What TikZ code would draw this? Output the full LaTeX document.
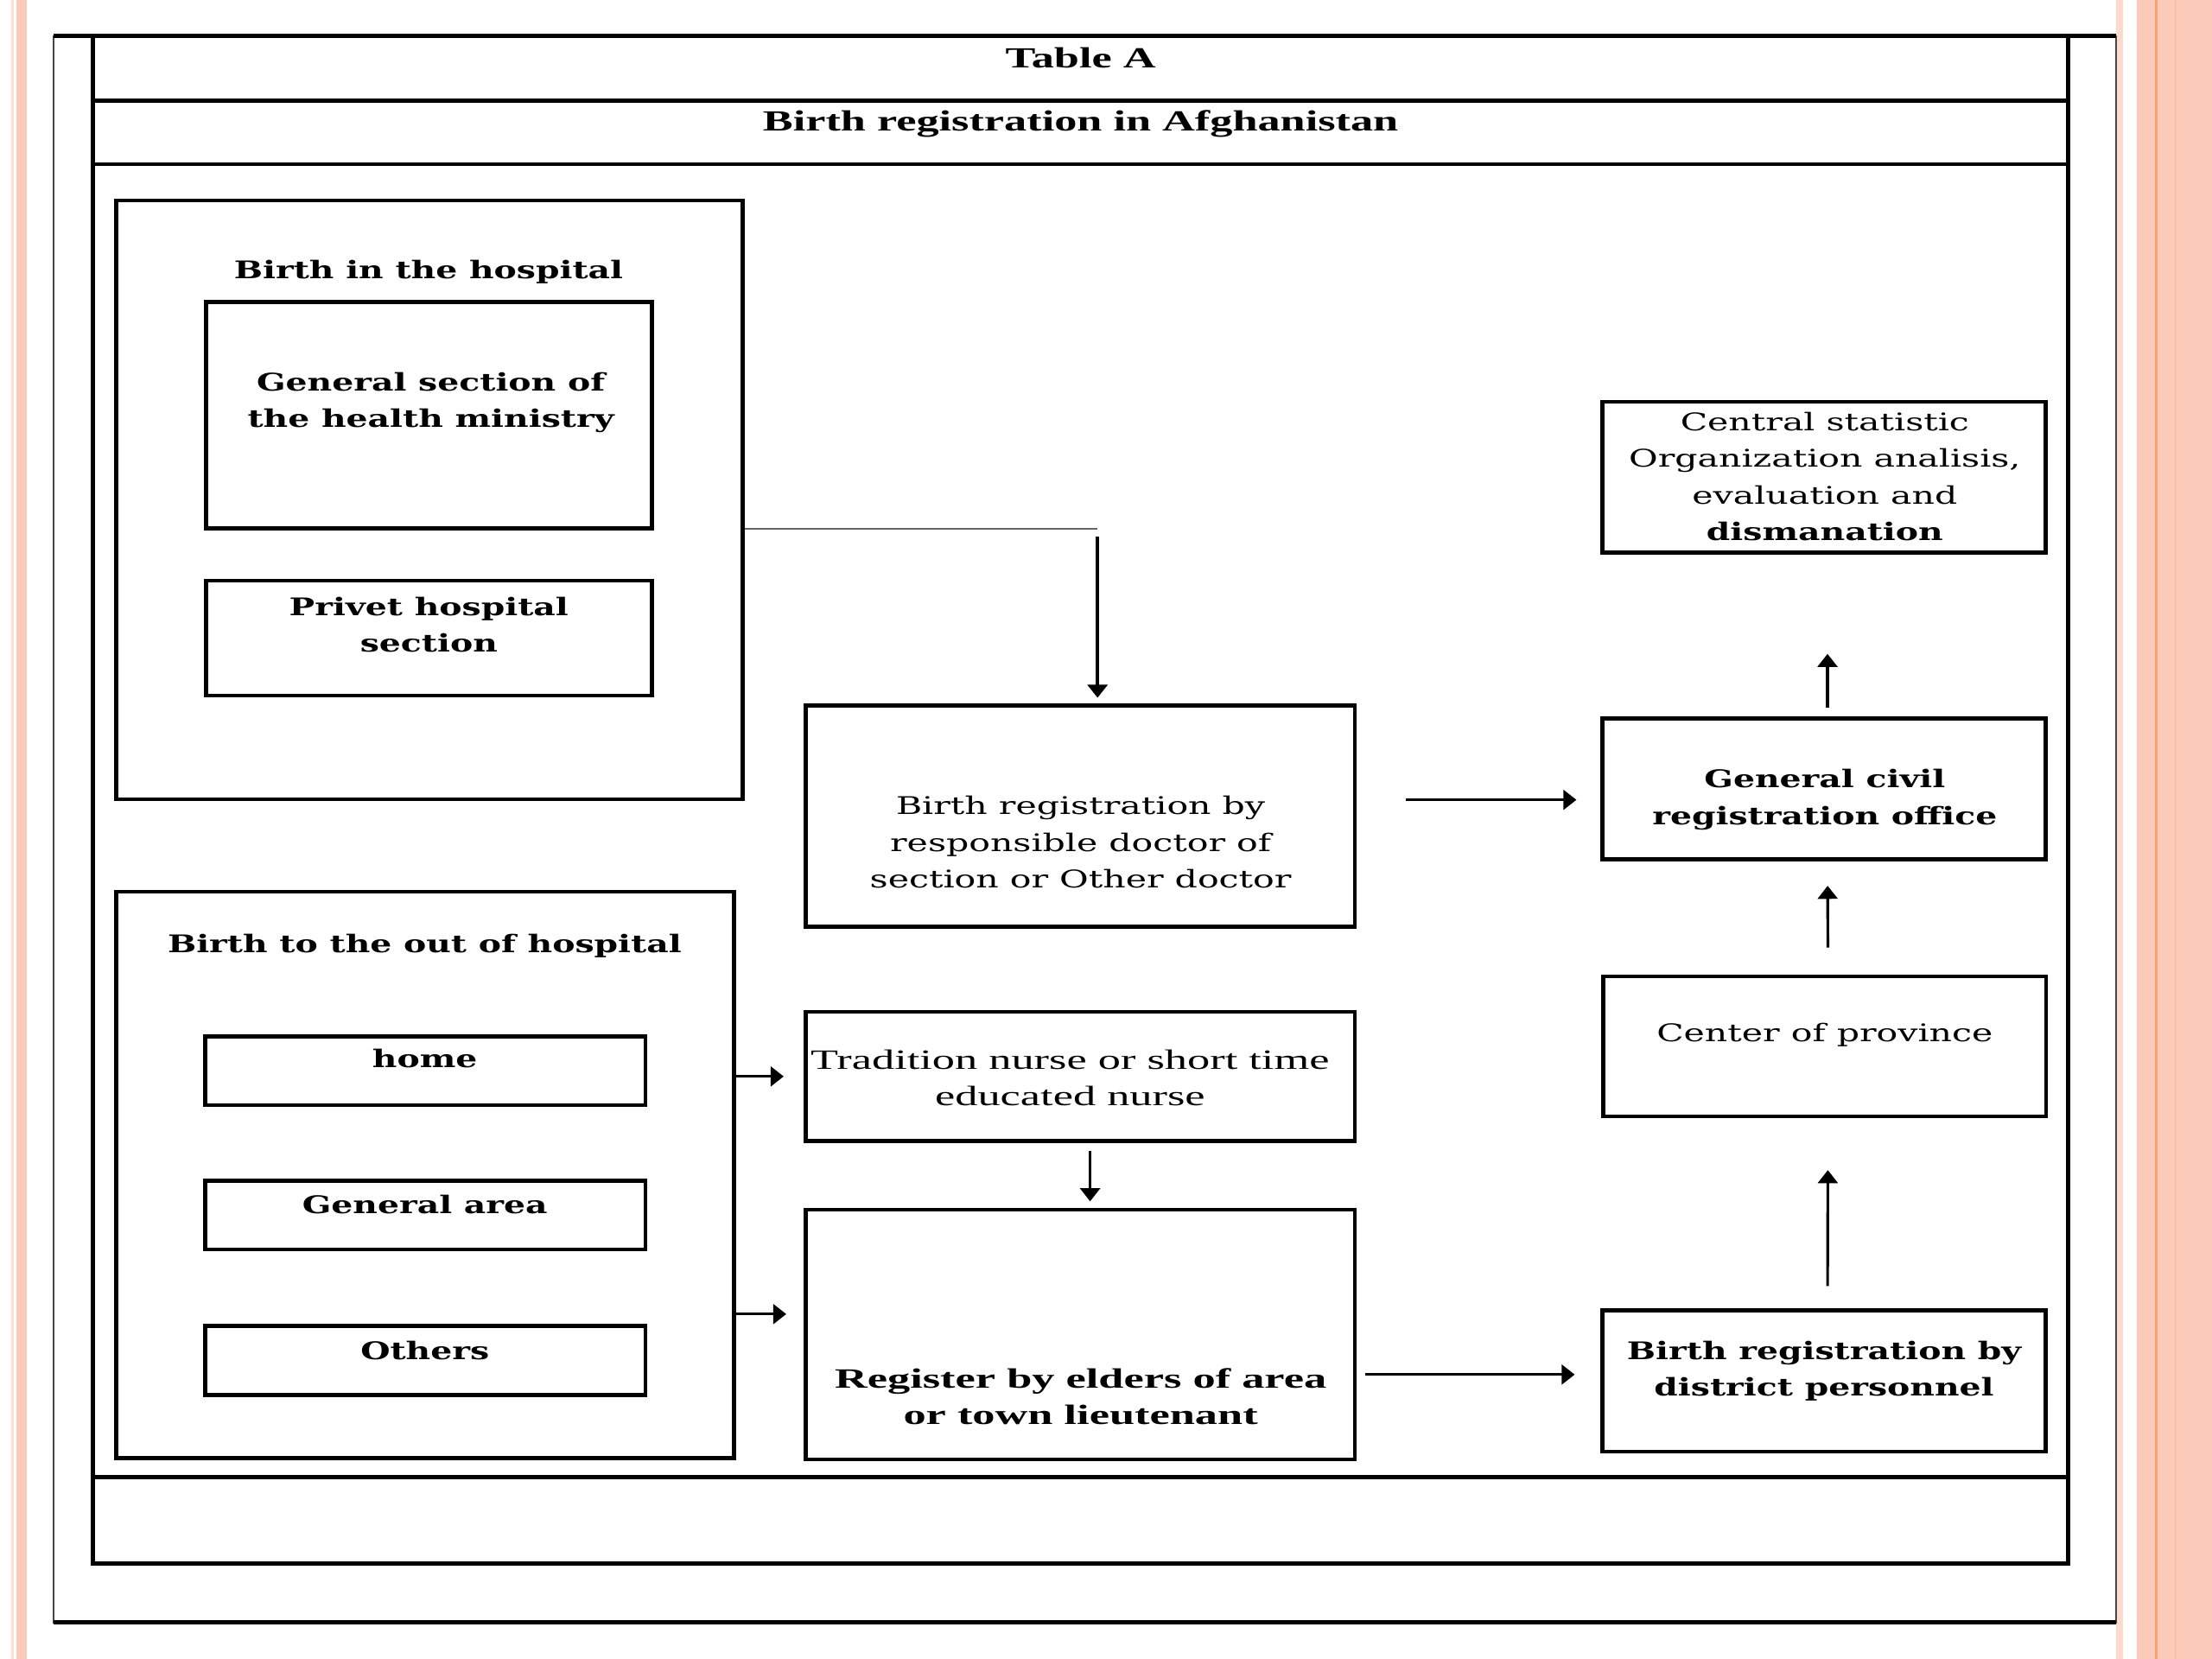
\documentclass[tikz,border=0pt]{standalone}
\usepackage{fontspec}
\newfontfamily\schfont{DejaVu Serif}[FakeStretch=1.46]
\newfontfamily\schbfont{DejaVu Serif}[FakeStretch=1.4]
\newfontfamily\tmsfont{Liberation Serif}[FakeStretch=1.62]
\newfontfamily\tmstfont{Liberation Serif}[FakeStretch=1.55]
\usetikzlibrary{arrows.meta,fit}
\definecolor{pinkband}{RGB}{252,202,184}
\definecolor{pinkline}{RGB}{247,160,112}
\definecolor{framegray}{RGB}{70,70,70}
\begin{document}
\begin{tikzpicture}[x=0.1633mm,y=-0.1633mm,
  box/.style={draw, line width=1.3pt, inner sep=0pt},
  sch/.style={inner sep=0pt, anchor=north, align=center, font=\schfont\fontsize{8}{12}\selectfont},
  schb/.style={inner sep=0pt, anchor=north, align=center, font=\schbfont\bfseries\fontsize{8}{12}\selectfont},
  tms/.style={inner sep=0pt, anchor=north, align=center, font=\tmsfont\fontsize{9.2}{12}\selectfont},
  tmsb/.style={inner sep=0pt, anchor=north, align=center, font=\tmsfont\bfseries\fontsize{9.2}{12}\selectfont},
  ttl/.style={inner sep=0pt, anchor=north, font=\tmstfont\bfseries\fontsize{9.6}{12}\selectfont},
  arr/.style={line width=0.9pt, -{Triangle[length=4.3pt,width=6.5pt]}},
  thinline/.style={line width=0.6pt, draw=black!60}]
\useasboundingbox (0,0) rectangle (1568,1176);
\fill[white] (0,0) rectangle (1568,1176);
% side bands
\fill[pinkband!60] (7.8,0) rectangle (9.6,1176);
\fill[pinkband] (11.8,0) rectangle (19,1176);
\fill[pinkband!70] (1500,0) rectangle (1505,1176);
\fill[pinkband] (1515,0) rectangle (1568,1176);
\draw[pinkline, line width=0.9pt] (1528.5,0) -- (1528.5,1176);
\draw[pinkline!50!pinkband, line width=0.5pt] (1542,0) -- (1542,1176);
% outer frame
\draw[framegray, line width=0.55pt] (37.8,25.5) rectangle (1500,1150);
\draw[line width=1.5pt] (37.8,25.5) -- (1500,25.5);
\draw[line width=1.5pt] (37.8,1150) -- (1500,1150);
% table
\draw[line width=1.4pt] (66,25.5) rectangle (1466,1108.5);
\draw[line width=1.3pt] (66,71.5) -- (1466,71.5);
\draw[line width=1.3pt] (66,116.4) -- (1466,116.4);
\draw[line width=1.3pt] (66,1047) -- (1466,1047);
\node[ttl] (tA) at (766,33.2) {Table A};
\node[ttl] (tB) at (766,78.1) {Birth registration in Afghanistan};
% boxes
\node[box, fit={(82.5,142) (526.5,566.5)}] (hosp) {};
\node[box, fit={(146,214) (462,374.5)}] (gsec) {};
\node[box, fit={(146,411.6) (462,493)}] (priv) {};
\node[box, fit={(82.3,632) (520.4,1033.5)}] (out) {};
\node[box, fit={(145.6,734.7) (457.5,783.3)}] (home) {};
\node[box, fit={(145.6,837) (457.5,885.6)}] (garea) {};
\node[box, fit={(145.6,940) (457.5,989)}] (oth) {};
\node[box, fit={(571,500) (960.5,657)}] (doc) {};
\node[box, fit={(571,717.3) (960.5,808.8)}] (trad) {};
\node[box, fit={(571,857.4) (960.5,1034.4)}] (reg) {};
\node[box, fit={(1136,284.8) (1450,391.7)}] (cent) {};
\node[box, fit={(1136,509.4) (1450,609)}] (gen) {};
\node[box, fit={(1136.4,692) (1450.3,791.3)}] (prov) {};
\node[box, fit={(1136,929) (1450,1029)}] (dist) {};
% texts
\node[schb] (hospT) at (303.8,184) {Birth in the hospital};
\node[schb] (gsecT) at (305.4,263.7) {General section of\\the health ministry};
\node[schb] (privT) at (304,423) {Privet hospital\\section};
\node[schb] (outT) at (301,662) {Birth to the out of hospital};
\node[schb] (homeT) at (301.2,743) {home};
\node[schb] (gareaT) at (301.2,847) {General area};
\node[schb] (othT) at (301.2,950) {Others};
\node[sch] (docT) at (766,564) {Birth registration by\\responsible doctor of\\section or Other doctor};
\node[tms] (tradT) at (758.5,744) {Tradition nurse or short time\\educated nurse};
\node[tmsb] (regT) at (766,969.5) {Register by elders of area\\or town lieutenant};
\node[sch] (centT) at (1293.5,292) {Central statistic\\Organization analisis,\\evaluation and\\{\schbfont\bfseries dismanation}};
\node[schb] (genT) at (1293.5,545) {General civil\\registration office};
\node[sch] (provT) at (1293.5,725) {Center of province};
\node[schb] (distT) at (1293,950) {Birth registration by\\district personnel};
% connectors
\coordinate (elbow) at (778,374.7);
\draw[thinline] (hosp.east |- elbow) -- (elbow);
\draw[arr, line width=1.1pt, shorten >=0.65mm] ([yshift=-0.9mm]elbow) -- (elbow |- doc.north);
\coordinate (d2) at ([yshift=1.88mm]doc.east);
\draw[arr, shorten <=5.7mm, shorten >=2.8mm] (d2) -- (d2 -| gen.west);
\draw[arr, shorten >=2.3mm] (out.east |- trad.west) -- (trad.west);
\coordinate (r4) at ([yshift=2.35mm]reg.west);
\draw[arr, shorten >=2.0mm] (out.east |- r4) -- (r4);
\draw[arr, shorten <=0.95mm, shorten >=0.72mm] ([xshift=1.14mm]trad.south) -- ([xshift=1.14mm]reg.north);
\coordinate (r6) at ([yshift=-4.65mm]reg.east);
\draw[arr, shorten <=1mm, shorten >=3mm] (r6) -- (r6 -| dist.west);
\draw[arr, shorten <=2.6mm, shorten >=6mm] ([xshift=0.4mm]dist.north) -- ([xshift=0.4mm]prov.south);
\draw[arr, shorten <=3.1mm, shorten >=2.86mm] ([xshift=0.4mm]prov.north) -- ([xshift=0.4mm]gen.south);
\draw[arr, shorten <=1.08mm, shorten >=11.5mm] ([xshift=0.4mm]gen.north) -- ([xshift=0.4mm]cent.south);
\end{tikzpicture}
\end{document}
